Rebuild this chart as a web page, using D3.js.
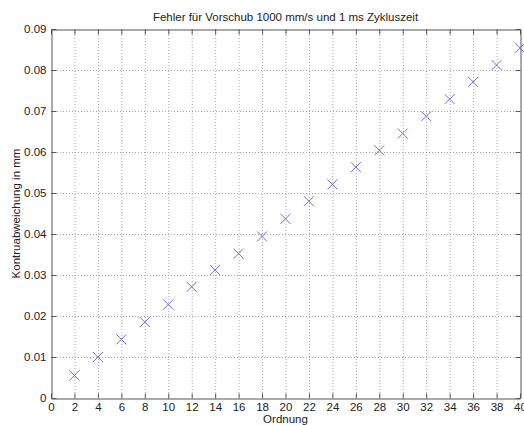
<!DOCTYPE html>
<html><head><meta charset="utf-8">
<script src="https://cdn.jsdelivr.net/npm/d3@7"></script>
<style>
html,body{margin:0;padding:0;background:#fff;}
text{font-family:"Liberation Sans",Arial,Helvetica,sans-serif;}
</style></head>
<body>
<svg id="c" width="524" height="425"></svg>
<script>
const ordnung = [2,4,6,8,10,12,14,16,18,20,22,24,26,28,30,32,34,36,38,40];
const abweichung = [0.0055,0.0100,0.0143,0.0185,0.0228,0.0271,0.0312,0.0352,0.0394,0.0437,0.0480,0.0521,0.0563,0.0604,0.0645,0.0687,0.0729,0.0771,0.0812,0.0854];
const xTicks = d3.range(0,41,2);
const yTicks = [0,0.01,0.02,0.03,0.04,0.05,0.06,0.07,0.08,0.09];
const titleText = "Fehler für Vorschub 1000 mm/s und 1 ms Zykluszeit";
const xLabel = "Ordnung";
const yLabel = "Kontruabweichung in mm";

const L=51,R=520,T=29,B=398;
const svg=d3.select("#c");
const x=d3.scaleLinear().domain([0,40]).range([L,R]);
const y=d3.scaleLinear().domain([0,0.09]).range([B,T]);
const axisCol="#555";

// grid
svg.append("g").selectAll("line").data(xTicks.slice(1,-1)).join("line")
  .attr("x1",d=>x(d)+0.5).attr("x2",d=>x(d)+0.5).attr("y1",T).attr("y2",B)
  .attr("stroke","#aaa").attr("stroke-width",1).attr("stroke-dasharray","1,2");
svg.append("g").selectAll("line").data(yTicks.slice(1,-1)).join("line")
  .attr("y1",d=>Math.round(y(d))+0.5).attr("y2",d=>Math.round(y(d))+0.5).attr("x1",L).attr("x2",R)
  .attr("stroke","#aaa").attr("stroke-width",1).attr("stroke-dasharray","1,2");

// axes
const fmtY=d=>d===0?"0":d3.format(".2f")(d);
const gx=svg.append("g").attr("transform",`translate(0,${B+0.5})`)
  .call(d3.axisBottom(x).tickValues(xTicks).tickSizeInner(-5).tickSizeOuter(0).tickPadding(4).tickFormat(d3.format("d")));
const gxt=svg.append("g").attr("transform",`translate(0,${T+0.5})`)
  .call(d3.axisTop(x).tickValues(xTicks).tickSizeInner(-5).tickSizeOuter(0).tickFormat(""));
const gy=svg.append("g").attr("transform",`translate(${L+0.5},0)`)
  .call(d3.axisLeft(y).tickValues(yTicks).tickSizeInner(-5).tickSizeOuter(0).tickPadding(5).tickFormat(fmtY));
const gyr=svg.append("g").attr("transform",`translate(${R+0.5},0)`)
  .call(d3.axisRight(y).tickValues(yTicks).tickSizeInner(-5).tickSizeOuter(0).tickFormat(""));
[gx,gxt,gy,gyr].forEach(g=>{
  g.selectAll("path,line").attr("stroke",axisCol).attr("stroke-width",1);
  g.selectAll("text").attr("fill","#222").style("font-size","11.5px").style("font-family",'"Liberation Sans",Arial,sans-serif');
});

// markers
const s=5;
const m=svg.append("g").selectAll("g").data(ordnung.map((o,i)=>[o,abweichung[i]])).join("g")
  .attr("transform",d=>`translate(${x(d[0])},${y(d[1])})`);
m.append("line").attr("x1",-s).attr("y1",-s).attr("x2",s).attr("y2",s);
m.append("line").attr("x1",-s).attr("y1",s).attr("x2",s).attr("y2",-s);
m.selectAll("line").attr("stroke","#6f6fcf").attr("stroke-width",1);

// labels
svg.append("text").attr("x",(L+R)/2).attr("y",21).attr("text-anchor","middle")
  .style("font-size","11.5px").attr("fill","#222").text(titleText);
svg.append("text").attr("x",(L+R)/2).attr("y",423).attr("text-anchor","middle")
  .style("font-size","11.5px").attr("fill","#222").text(xLabel);
svg.append("text").attr("transform",`translate(20,${(T+B)/2}) rotate(-90)`).attr("text-anchor","middle")
  .style("font-size","11.5px").attr("fill","#222").text(yLabel);
</script>
</body></html>
